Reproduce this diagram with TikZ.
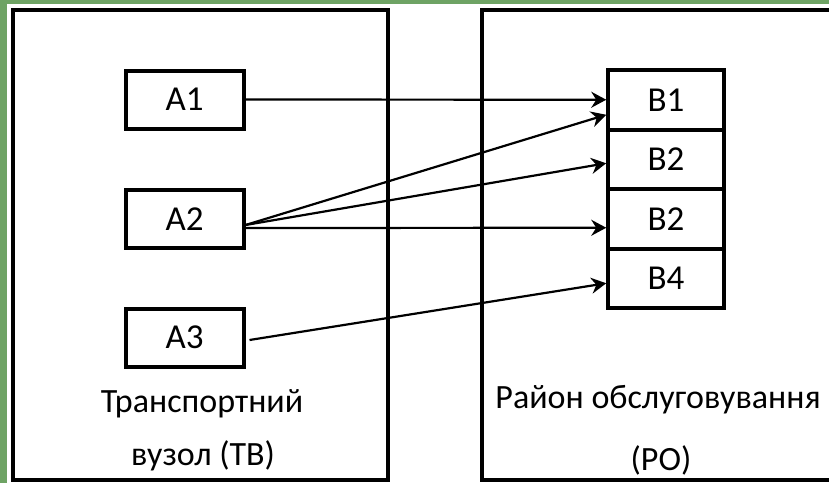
\documentclass[tikz,border=0pt]{standalone}
\usepackage{fontspec}
\setmainfont{Carlito}
\usetikzlibrary{arrows.meta}
\definecolor{frameGreen}{RGB}{110,163,100}
\tikzset{
  outerbox/.style={draw=black, line width=4pt},
  abox/.style={draw=black, line width=4pt, minimum width=118pt, minimum height=58pt, inner sep=0pt, font=\fontsize{35}{40}\selectfont},
  bbox/.style={draw=black, line width=4pt, minimum width=115.5pt, minimum height=59.5pt, inner sep=0pt, font=\fontsize{35}{40}\selectfont},
  lbl/.style={anchor=base, inner sep=0pt, font=\fontsize{34}{40}\selectfont},
  conn/.style={draw=black, line width=2.2pt, -{Stealth[length=15pt,width=16pt,inset=5pt]}}
}
\begin{document}
\begin{tikzpicture}[x=1pt,y=-1pt]
\useasboundingbox (0,0) rectangle (829,483);
\fill[frameGreen] (0,0) rectangle (829,483);
\fill[white] (7,4) rectangle (829,483);
% outer boxes
\draw[outerbox] (13,10) rectangle (388,480);
\draw[outerbox] (482,10) rectangle (845,480);
% A nodes
\node[abox] (A1) at (184.5,99.5) {A1};
\node[abox] (A2) at (184.5,219) {A2};
\node[abox] (A3) at (184.5,337.5) {A3};
% B nodes
\node[bbox] (B1) at (666,99.75) {B1};
\node[bbox] (B2) at (666,159.25) {B2};
\node[bbox] (B3) at (666,218.75) {B2};
\node[bbox] (B4) at (666,278.25) {B4};
% labels
\node[lbl] (tv1) at (202,412) {Транспортний};
\node[lbl] (tv2) at (203,465) {вузол (ТВ)};
\node[lbl] (ro1) at (658,408) {Район обслуговування};
\node[lbl] (ro2) at (661,470) {(РО)};
% connectors
\draw[conn] (A1.east) -- (B1.west);
\draw[conn] ([yshift=-6pt]A2.east) -- ([yshift=-15pt]B1.west);
\draw[conn] ([yshift=-6pt]A2.east) -- ([yshift=-4pt]B2.west);
\draw[conn] ([yshift=-9pt]A2.east) -- ([yshift=-9pt]B3.west);
\draw[conn] ([xshift=4pt,yshift=-2.5pt]A3.east) -- ([yshift=-5pt]B4.west);
\end{tikzpicture}
\end{document}
